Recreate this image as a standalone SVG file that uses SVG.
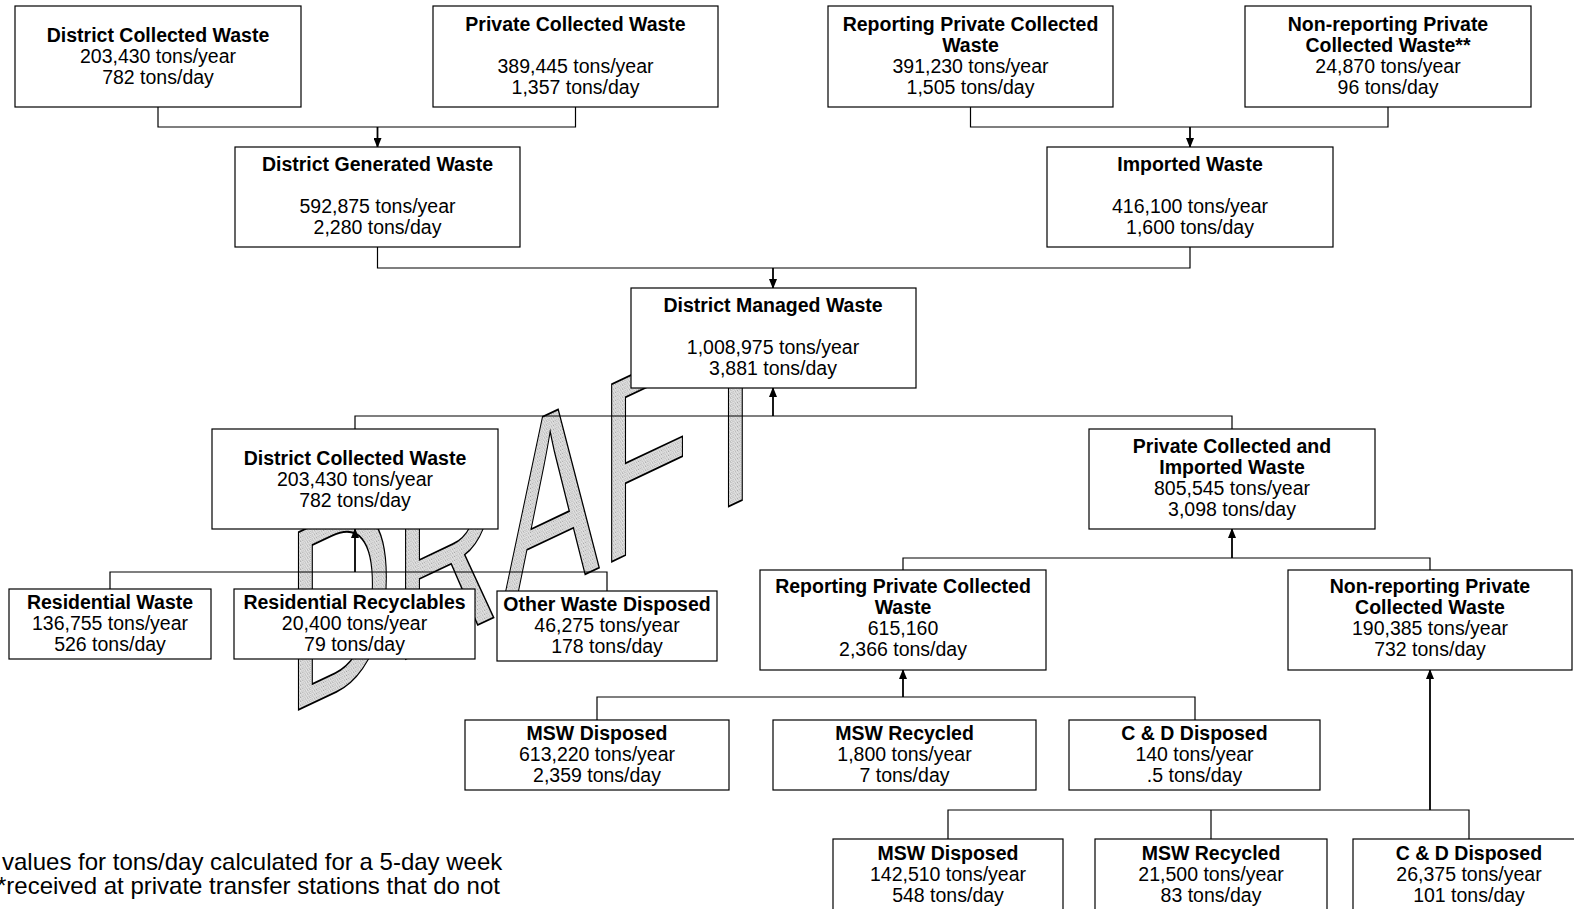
<svg xmlns="http://www.w3.org/2000/svg" width="1574" height="909" viewBox="0 0 1574 909">
<style>
.box{fill:#fff;stroke:#000;stroke-width:1.2}
.t{font-family:"Liberation Sans",Arial,sans-serif;font-size:19.5px;text-anchor:middle;fill:#000}
.b{font-weight:bold}
.ln{fill:none;stroke:#000;stroke-width:1.2}
.ar{fill:none;stroke:#000;stroke-width:1.8;marker-end:url(#ah)}
.wm{font-family:"Liberation Sans",Arial,sans-serif;font-size:258px;fill:url(#sp);stroke:#000;stroke-width:1.6;vector-effect:non-scaling-stroke}
.fn{font-family:"Liberation Sans",Arial,sans-serif;font-size:24px;fill:#000}
</style>
<defs>
<marker id="ah" markerWidth="10" markerHeight="8" refX="9" refY="4" orient="auto" markerUnits="userSpaceOnUse">
<path d="M0,0 L10,4 L0,8 z" fill="#000"/>
</marker>
<pattern id="sp" width="4" height="4" patternUnits="userSpaceOnUse">
<rect width="4" height="4" fill="#e4e4e4"/>
<rect x="0" y="0" width="1" height="1" fill="#8a8a8a"/>
<rect x="2" y="1" width="1" height="1" fill="#a4a4a4"/>
<rect x="1" y="3" width="1" height="1" fill="#9c9c9c"/>
<rect x="3" y="2" width="1" height="1" fill="#b8b8b8"/>
</pattern>
</defs>
<rect width="1574" height="909" fill="#fff"/>

<g id="watermark">
<text class="wm" transform="translate(286.3,715.5) skewY(-25.3) scale(0.575,1)" x="0" y="0">DRAFT</text>
</g>

<g id="connectors">
<polyline class="ln" points="158,107 158,127 575.5,127 575.5,107"/>
<polyline class="ln" points="970.5,107 970.5,127 1388,127 1388,107"/>
<polyline class="ln" points="377.5,247 377.5,268 1190,268 1190,247"/>
<polyline class="ln" points="355,429 355,416 1232,416 1232,429"/>
<polyline class="ln" points="110,589 110,572 607,572 607,591"/>
<polyline class="ln" points="903,570 903,558 1430,558 1430,570"/>
<polyline class="ln" points="597,720 597,697 1195,697 1195,720"/>
<polyline class="ln" points="948,839 948,810 1469,810 1469,839"/>
<line class="ln" x1="1211" y1="810" x2="1211" y2="839"/>
<line class="ar" x1="377.5" y1="127" x2="377.5" y2="147"/>
<line class="ar" x1="1190" y1="127" x2="1190" y2="147"/>
<line class="ar" x1="773" y1="268" x2="773" y2="288"/>
<line class="ar" x1="773" y1="416" x2="773" y2="388"/>
<line class="ar" x1="355" y1="572" x2="355" y2="529"/>
<line class="ar" x1="1232" y1="558" x2="1232" y2="529"/>
<line class="ar" x1="903" y1="697" x2="903" y2="670"/>
<line class="ar" x1="1430" y1="810" x2="1430" y2="670"/>
</g>

<g id="n1"><rect class="box" x="15" y="6" width="286" height="101"/>
<text class="t b" x="158" y="42">District Collected Waste</text>
<text class="t" x="158" y="63">203,430 tons/year</text>
<text class="t" x="158" y="84">782 tons/day</text></g>

<g id="n2"><rect class="box" x="433" y="6" width="285" height="101"/>
<text class="t b" x="575.5" y="31">Private Collected Waste</text>
<text class="t" x="575.5" y="73">389,445 tons/year</text>
<text class="t" x="575.5" y="94">1,357 tons/day</text></g>

<g id="n3"><rect class="box" x="828" y="6" width="285" height="101"/>
<text class="t b" x="970.5" y="31">Reporting Private Collected</text>
<text class="t b" x="970.5" y="52">Waste</text>
<text class="t" x="970.5" y="73">391,230 tons/year</text>
<text class="t" x="970.5" y="94">1,505 tons/day</text></g>

<g id="n4"><rect class="box" x="1245" y="6" width="286" height="101"/>
<text class="t b" x="1388" y="31">Non-reporting Private</text>
<text class="t b" x="1388" y="52">Collected Waste**</text>
<text class="t" x="1388" y="73">24,870 tons/year</text>
<text class="t" x="1388" y="94">96 tons/day</text></g>

<g id="n5"><rect class="box" x="235" y="147" width="285" height="100"/>
<text class="t b" x="377.5" y="171">District Generated Waste</text>
<text class="t" x="377.5" y="213">592,875 tons/year</text>
<text class="t" x="377.5" y="234">2,280 tons/day</text></g>

<g id="n6"><rect class="box" x="1047" y="147" width="286" height="100"/>
<text class="t b" x="1190" y="171">Imported Waste</text>
<text class="t" x="1190" y="213">416,100 tons/year</text>
<text class="t" x="1190" y="234">1,600 tons/day</text></g>

<g id="n7"><rect class="box" x="631" y="288" width="285" height="100"/>
<text class="t b" x="773" y="312">District Managed Waste</text>
<text class="t" x="773" y="354">1,008,975 tons/year</text>
<text class="t" x="773" y="375">3,881 tons/day</text></g>

<g id="n8"><rect class="box" x="212" y="429" width="286" height="100"/>
<text class="t b" x="355" y="465">District Collected Waste</text>
<text class="t" x="355" y="486">203,430 tons/year</text>
<text class="t" x="355" y="507">782 tons/day</text></g>

<g id="n9"><rect class="box" x="1089" y="429" width="286" height="100"/>
<text class="t b" x="1232" y="453">Private Collected and</text>
<text class="t b" x="1232" y="474">Imported Waste</text>
<text class="t" x="1232" y="495">805,545 tons/year</text>
<text class="t" x="1232" y="516">3,098 tons/day</text></g>

<g id="n10"><rect class="box" x="9" y="589" width="202" height="70"/>
<text class="t b" x="110" y="609">Residential Waste</text>
<text class="t" x="110" y="630">136,755 tons/year</text>
<text class="t" x="110" y="651">526 tons/day</text></g>

<g id="n11"><rect class="box" x="234" y="589" width="241" height="70"/>
<text class="t b" x="354.5" y="609">Residential Recyclables</text>
<text class="t" x="354.5" y="630">20,400 tons/year</text>
<text class="t" x="354.5" y="651">79 tons/day</text></g>

<g id="n12"><rect class="box" x="497" y="591" width="220" height="70"/>
<text class="t b" x="607" y="611">Other Waste Disposed</text>
<text class="t" x="607" y="632">46,275 tons/year</text>
<text class="t" x="607" y="653">178 tons/day</text></g>

<g id="n13"><rect class="box" x="760" y="570" width="286" height="100"/>
<text class="t b" x="903" y="593">Reporting Private Collected</text>
<text class="t b" x="903" y="614">Waste</text>
<text class="t" x="903" y="635">615,160</text>
<text class="t" x="903" y="656">2,366 tons/day</text></g>

<g id="n14"><rect class="box" x="1288" y="570" width="284" height="100"/>
<text class="t b" x="1430" y="593">Non-reporting Private</text>
<text class="t b" x="1430" y="614">Collected Waste</text>
<text class="t" x="1430" y="635">190,385 tons/year</text>
<text class="t" x="1430" y="656">732 tons/day</text></g>

<g id="n15"><rect class="box" x="465" y="720" width="264" height="70"/>
<text class="t b" x="597" y="740">MSW Disposed</text>
<text class="t" x="597" y="761">613,220 tons/year</text>
<text class="t" x="597" y="782">2,359 tons/day</text></g>

<g id="n16"><rect class="box" x="773" y="720" width="263" height="70"/>
<text class="t b" x="904.5" y="740">MSW Recycled</text>
<text class="t" x="904.5" y="761">1,800 tons/year</text>
<text class="t" x="904.5" y="782">7 tons/day</text></g>

<g id="n17"><rect class="box" x="1069" y="720" width="251" height="70"/>
<text class="t b" x="1194.5" y="740">C &amp; D Disposed</text>
<text class="t" x="1194.5" y="761">140 tons/year</text>
<text class="t" x="1194.5" y="782">.5 tons/day</text></g>

<g id="n18"><rect class="box" x="833" y="839" width="230" height="80"/>
<text class="t b" x="948" y="860">MSW Disposed</text>
<text class="t" x="948" y="881">142,510 tons/year</text>
<text class="t" x="948" y="902">548 tons/day</text></g>

<g id="n19"><rect class="box" x="1095" y="839" width="232" height="80"/>
<text class="t b" x="1211" y="860">MSW Recycled</text>
<text class="t" x="1211" y="881">21,500 tons/year</text>
<text class="t" x="1211" y="902">83 tons/day</text></g>

<g id="n20"><rect class="box" x="1353" y="839" width="232" height="80"/>
<text class="t b" x="1469" y="860">C &amp; D Disposed</text>
<text class="t" x="1469" y="881">26,375 tons/year</text>
<text class="t" x="1469" y="902">101 tons/day</text></g>

<g id="footnote">
<text class="fn" x="2" y="870">values for tons/day calculated for a 5-day week</text>
<text class="fn" x="-3" y="894">*received at private transfer stations that do not</text>
</g>
</svg>
